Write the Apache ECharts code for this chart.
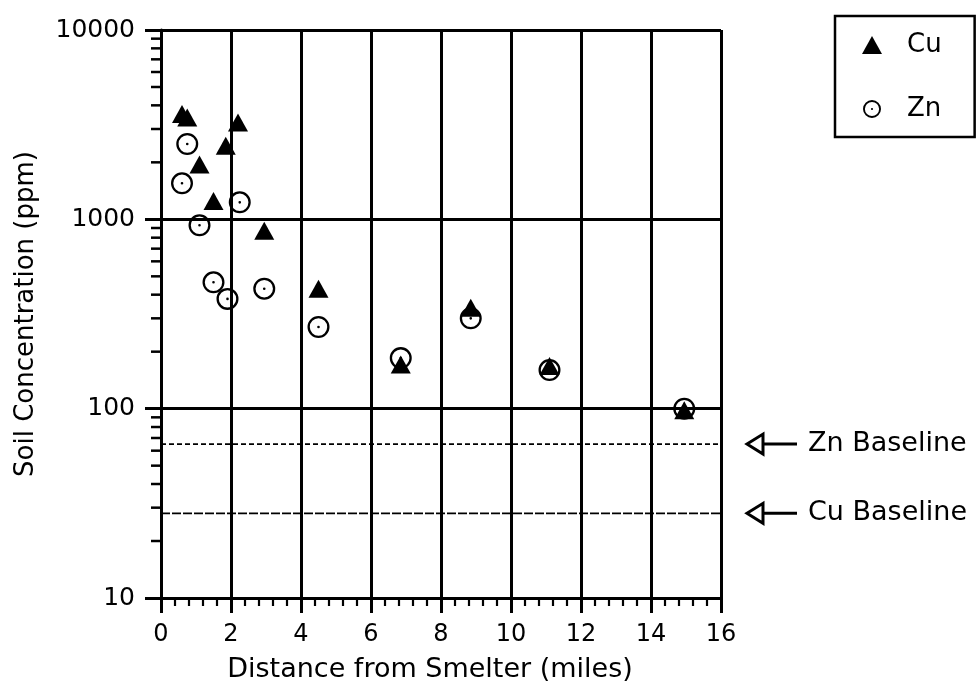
<!DOCTYPE html>
<html>
<head>
<meta charset="utf-8">
<script src="https://cdn.jsdelivr.net/npm/echarts@6/dist/echarts.min.js"></script>
<style>html,body{margin:0;padding:0;background:#fff;}#c{width:980px;height:696px;}</style>
</head>
<body>
<div id="c"></div>
<script>
// ---- data ----
const cuDist = [0.6, 0.75, 1.1, 1.5, 1.85, 2.2, 2.95, 4.5, 6.85, 8.85, 11.1, 14.95];
const cuConc = [3600, 3450, 1950, 1250, 2450, 3250, 870, 430, 171, 341, 168, 98];
const znDist = [0.6, 0.75, 1.1, 1.5, 1.9, 2.25, 2.95, 4.5, 6.85, 8.85, 11.1, 14.95];
const znConc = [1550, 2500, 930, 465, 380, 1230, 430, 270, 185, 300, 160, 100];
const baselineNames = ['Zn Baseline', 'Cu Baseline'];
const baselineValues = [65, 28];
const baselineDash = [[5, 3], [9, 2]];
const yMinorTicks = [20,30,40,50,60,70,80,90,200,300,400,500,600,700,800,900,2000,3000,4000,5000,6000,7000,8000,9000];
const xMin = 0, xMax = 16, xStep = 2;
const yMin = 10, yMax = 10000;
const xTitle = 'Distance from Smelter (miles)';
const yTitle = 'Soil Concentration (ppm)';

const FONT = 'DejaVu Sans';
const ring = 'path://M10 0A10 10 0 1 1 10 20A10 10 0 1 1 10 0Z' +
  'M10 2.1A7.9 7.9 0 1 0 10 17.9A7.9 7.9 0 1 0 10 2.1Z' +
  'M10 8.8A1.2 1.2 0 1 1 10 11.2A1.2 1.2 0 1 1 10 8.8Z';

const chart = echarts.init(document.getElementById('c'), null, {renderer: 'canvas'});
const option = {
  backgroundColor: '#fff',
  animation: false,
  textStyle: {fontFamily: FONT, color: '#000'},
  grid: {left: 161, right: 259, top: 30, bottom: 98},
  legend: {
    left: 835, top: 16, orient: 'vertical',
    data: [{name: 'Cu', icon: 'triangle'}, {name: 'Zn', icon: ring}],
    itemWidth: 20, itemHeight: 18, itemGap: 38,
    padding: [16, 33, 15, 27],
    borderColor: '#000', borderWidth: 2.5, borderRadius: 0,
    textStyle: {fontFamily: FONT, fontSize: 26, color: '#000', padding: [0, 0, 0, 20]},
    selectedMode: false
  },
  xAxis: {
    type: 'value', min: xMin, max: xMax, interval: xStep,
    name: xTitle, nameLocation: 'middle', nameGap: 58,
    nameTextStyle: {fontFamily: FONT, fontSize: 27, color: '#000', padding: [0, 22, 0, 0]},
    axisLine: {show: true, lineStyle: {color: '#000', width: 3}},
    axisTick: {show: true, inside: false, length: 15, lineStyle: {color: '#000', width: 3}},
    minorTick: {show: true, splitNumber: 5, length: 8, lineStyle: {color: '#000', width: 2.2}},
    axisLabel: {fontFamily: FONT, fontSize: 24, color: '#000', margin: 25},
    splitLine: {show: true, lineStyle: {color: '#000', width: 3}}
  },
  yAxis: {
    type: 'log', logBase: 10, min: yMin, max: yMax,
    name: yTitle, nameLocation: 'middle', nameGap: 122,
    nameTextStyle: {fontFamily: FONT, fontSize: 26, color: '#000'},
    axisLine: {show: true, lineStyle: {color: '#000', width: 3}},
    axisTick: {show: true, inside: false, length: 16, lineStyle: {color: '#000', width: 3}},
    axisLabel: {fontFamily: FONT, fontSize: 25, color: '#000', margin: 26,
                formatter: v => String(v)},
    splitLine: {show: true, lineStyle: {color: '#000', width: 3}}
  },
  series: [
    {
      name: 'yMinor', type: 'custom', silent: true, z: 5,
      data: yMinorTicks.map(v => [xMin, v]),
      renderItem: function (params, api) {
        const p = api.coord([api.value(0), api.value(1)]);
        return {type: 'line', shape: {x1: p[0] - 10, y1: p[1], x2: p[0], y2: p[1]},
                style: {stroke: '#000', lineWidth: 2.5}};
      }
    },
    {
      name: 'baselines', type: 'custom', silent: true, z: 4,
      data: baselineValues.map((v, i) => [xMin, v, i]),
      renderItem: function (params, api) {
        const v = api.value(1);
        const idx = api.value(2);
        const a = api.coord([xMin, v]);
        const b = api.coord([xMax, v]);
        const x0 = b[0], y = b[1];
        return {
          type: 'group',
          children: [
            {type: 'line', shape: {x1: a[0], y1: y, x2: b[0], y2: y},
             style: {stroke: '#000', lineWidth: 1.8, lineDash: baselineDash[idx]}},
            {type: 'polygon', shape: {points: [[x0 + 26, y], [x0 + 42, y - 10], [x0 + 42, y + 10]]},
             style: {fill: '#fff', stroke: '#000', lineWidth: 3}},
            {type: 'line', shape: {x1: x0 + 42, y1: y, x2: x0 + 76, y2: y},
             style: {stroke: '#000', lineWidth: 3}},
            {type: 'text', x: x0 + 87, y: y,
             style: {text: baselineNames[idx], fontFamily: FONT, fontSize: 27, fill: '#000',
                     verticalAlign: 'middle', align: 'left'}}
          ]
        };
      }
    },
    {
      name: 'Zn', type: 'scatter', z: 6,
      symbol: ring, symbolSize: 22, symbolKeepAspect: true,
      itemStyle: {color: '#000', opacity: 1},
      data: znDist.map((x, i) => [x, znConc[i]])
    },
    {
      name: 'Cu', type: 'scatter', z: 7,
      symbol: 'triangle', symbolSize: [20, 18],
      itemStyle: {color: '#000', opacity: 1},
      data: cuDist.map((x, i) => [x, cuConc[i]])
    }
  ]
};
chart.setOption(option);
</script>
</body>
</html>
